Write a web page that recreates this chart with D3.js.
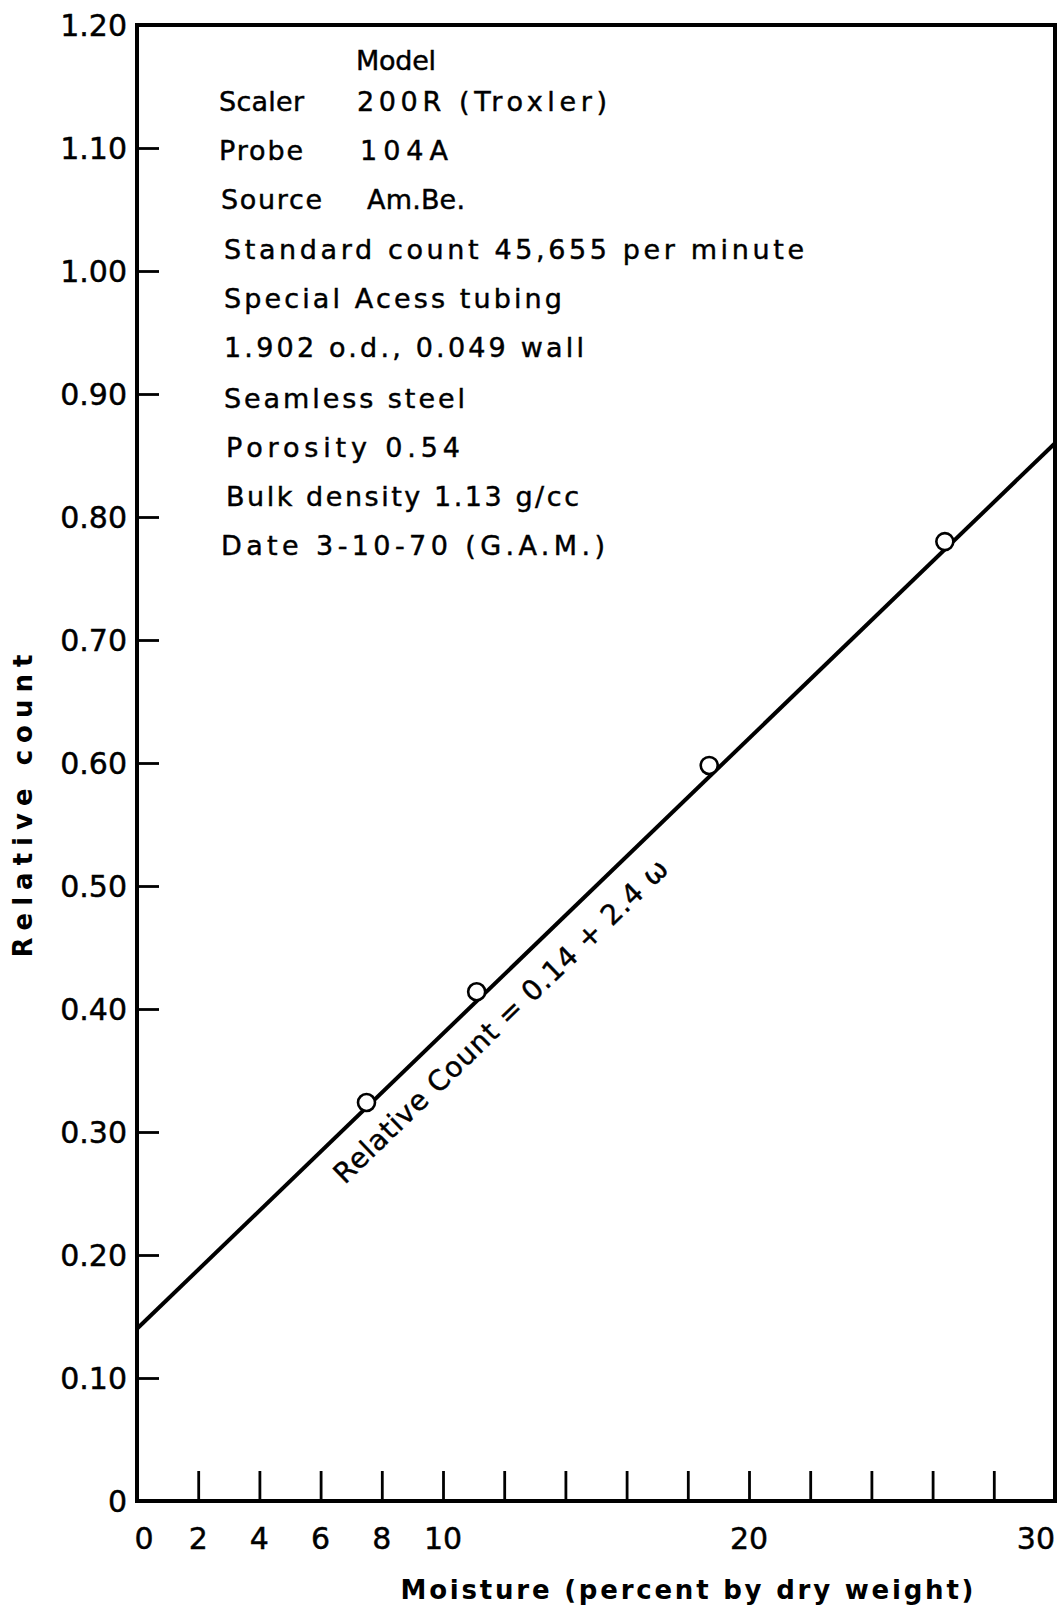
<!DOCTYPE html>
<html>
<head>
<meta charset="utf-8">
<script src="https://cdn.jsdelivr.net/npm/d3@7"></script>
<style>
  html, body { margin: 0; padding: 0; background: #fff; }
  svg { display: block; }
  text { font-family: "DejaVu Sans", sans-serif; fill: #000; stroke: #000; stroke-width: 0.45px; }
  text.title { stroke-width: 0; }
</style>
</head>
<body>
<svg id="chart" width="1061" height="1612"></svg>
<script>
// Neutron probe calibration: relative count vs. soil moisture
const moisture = [7.5, 11.1, 18.7, 26.4];          // percent by dry weight
const relativeCount = [0.324, 0.414, 0.598, 0.780];

// Fitted calibration: Relative Count = 0.14 + 2.4 w  (w as a fraction)
const fitIntercept = 0.14;
const fitSlope = 2.4;
const fitLabel = "Relative Count = 0.14 + 2.4 \u03c9";

const yTickValues = [0, 0.1, 0.2, 0.3, 0.4, 0.5, 0.6, 0.7, 0.8, 0.9, 1.0, 1.1, 1.2];
const yTickLabels = ["0", "0.10", "0.20", "0.30", "0.40", "0.50", "0.60",
                     "0.70", "0.80", "0.90", "1.00", "1.10", "1.20"];
const xTickValues = [0, 2, 4, 6, 8, 10, 12, 14, 16, 18, 20, 22, 24, 26, 28, 30];
const xLabelled = [0, 2, 4, 6, 8, 10, 20, 30];

const xTitle = "Moisture (percent by dry weight)";
const yTitle = "Relative count";

// Instrument notes, one entry per printed line (label, value)
const notes = [
  ["", "Model"],
  ["Scaler", "200R (Troxler)"],
  ["Probe", "104A"],
  ["Source", "Am.Be."],
  ["Standard count 45,655 per minute"],
  ["Special Acess tubing"],
  ["1.902 o.d., 0.049 wall"],
  ["Seamless steel"],
  ["Porosity 0.54"],
  ["Bulk density 1.13 g/cc"],
  ["Date 3-10-70 (G.A.M.)"]
];

(function draw() {
  const svg = d3.select("#chart");
  const m = { left: 137, right: 1055, top: 25, bottom: 1501 };

  const x = d3.scaleLinear().domain([0, 30]).range([m.left, m.right]);
  const y = d3.scaleLinear().domain([0, 1.2]).range([m.bottom, m.top]);

  // y axis: ticks point inward
  const yAxis = d3.axisLeft(y)
    .tickValues(yTickValues.filter(v => v > 0 && v < 1.2))
    .tickSizeInner(-22).tickSizeOuter(0)
    .tickFormat(() => "");
  const gy = svg.append("g").attr("transform", `translate(${m.left},0)`).call(yAxis);
  gy.select(".domain").remove();
  gy.selectAll(".tick line").attr("stroke", "#000").attr("stroke-width", 2.8);

  svg.append("g").selectAll("text")
    .data(yTickValues)
    .join("text")
    .attr("x", m.left - 10)
    .attr("y", d => y(d))
    .attr("dy", "0.36em")
    .attr("text-anchor", "end")
    .style("font-size", "30px")
    .text((d, i) => yTickLabels[i]);

  // x axis: ticks point upward
  const xAxis = d3.axisBottom(x)
    .tickValues(xTickValues.filter(v => v > 0 && v < 30))
    .tickSizeInner(-30).tickSizeOuter(0)
    .tickFormat(() => "");
  const gx = svg.append("g").attr("transform", `translate(0,${m.bottom})`).call(xAxis);
  gx.select(".domain").remove();
  gx.selectAll(".tick line").attr("stroke", "#000").attr("stroke-width", 2.8);

  svg.append("g").selectAll("text")
    .data(xLabelled)
    .join("text")
    .attr("x", d => d === 0 ? x(d) + 7 : x(d))
    .attr("y", m.bottom + 37)
    .attr("dy", "0.36em")
    .attr("text-anchor", d => d === 30 ? "end" : "middle")
    .style("font-size", "30px")
    .text(d => d);

  // plot frame
  svg.append("rect")
    .attr("x", m.left).attr("y", m.top)
    .attr("width", m.right - m.left).attr("height", m.bottom - m.top)
    .attr("fill", "none").attr("stroke", "#000").attr("stroke-width", 4);

  // calibration line across the full moisture range
  const fit = w => fitIntercept + fitSlope * w / 100;
  svg.append("path")
    .datum([0, 30])
    .attr("d", d3.line().x(d => x(d)).y(d => y(fit(d))))
    .attr("fill", "none").attr("stroke", "#000").attr("stroke-width", 4);

  // measured points
  svg.append("g").selectAll("circle")
    .data(moisture)
    .join("circle")
    .attr("cx", d => x(d))
    .attr("cy", (d, i) => y(relativeCount[i]))
    .attr("r", 8.5)
    .attr("fill", "#fff").attr("stroke", "#000").attr("stroke-width", 2.6);

  // equation written along the line
  const angle = Math.atan2(y(fit(30)) - y(fit(0)), x(30) - x(0)) * 180 / Math.PI;
  const wMid = 11.18;
  const rad = angle * Math.PI / 180;
  const off = 30.5; // perpendicular distance below the line
  const ex = x(wMid) - off * Math.sin(rad);
  const ey = y(fit(wMid)) + off * Math.cos(rad);
  svg.append("text")
    .attr("transform", `translate(${ex},${ey}) rotate(${angle})`)
    .attr("text-anchor", "middle")
    .attr("dy", "0.36em")
    .attr("textLength", 452).attr("lengthAdjust", "spacing")
    .style("font-size", "28px")
    .text(fitLabel);

  // instrument notes block
  const noteLayout = [
    [{x: 356, w: 80}],
    [{x: 219, w: 85}, {x: 357, w: 250}],
    [{x: 219, w: 84}, {x: 360, w: 88}],
    [{x: 221, w: 101}, {x: 367, w: 98}],
    [{x: 224, w: 580}],
    [{x: 224, w: 338}],
    [{x: 224, w: 360}],
    [{x: 224, w: 241}],
    [{x: 226, w: 234}],
    [{x: 226, w: 353}],
    [{x: 221, w: 384}]
  ];
  const noteY = [60, 101, 150, 199, 249, 298, 347, 398, 447, 496, 545];
  const gNotes = svg.append("g");
  notes.forEach((row, i) => {
    row.filter(s => s !== "").forEach((s, j) => {
      const lay = noteLayout[i][j];
      gNotes.append("text")
        .attr("x", lay.x).attr("y", noteY[i]).attr("dy", "0.36em")
        .attr("textLength", lay.w).attr("lengthAdjust", "spacing")
        .style("font-size", "27px")
        .text(s);
    });
  });

  // axis titles
  svg.append("text")
    .attr("class", "title")
    .attr("x", 687).attr("y", 1590).attr("dy", "0.36em")
    .attr("text-anchor", "middle")
    .attr("textLength", 573).attr("lengthAdjust", "spacing")
    .style("font-size", "26px").style("font-weight", "bold")
    .text(xTitle);

  svg.append("text")
    .attr("class", "title")
    .attr("transform", "translate(23,806) rotate(-90)")
    .attr("text-anchor", "middle").attr("dy", "0.36em")
    .attr("textLength", 303).attr("lengthAdjust", "spacing")
    .style("font-size", "26px").style("font-weight", "bold")
    .text(yTitle);
})();
</script>
</body>
</html>
